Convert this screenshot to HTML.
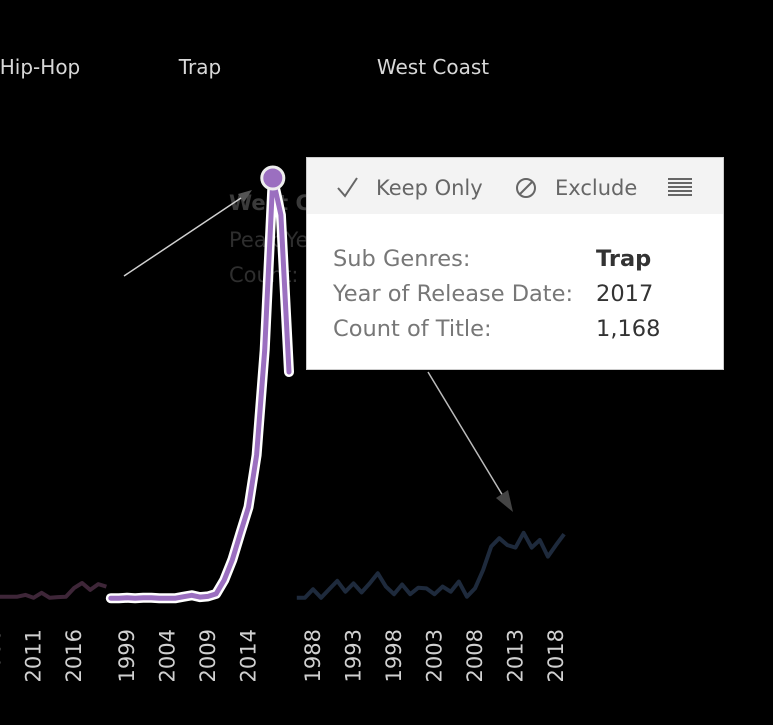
<!DOCTYPE html>
<html><head><meta charset="utf-8">
<style>
html,body{margin:0;padding:0;background:#000;}
body{width:773px;height:725px;overflow:hidden;position:relative;font-family:"DejaVu Sans","Liberation Sans",sans-serif;}
svg{position:absolute;left:0;top:0;font-family:"DejaVu Sans","Liberation Sans",sans-serif;}
</style></head>
<body>
<svg id="chart" width="773" height="725">
  <text x="40" y="74" fill="#d8d8d8" font-size="20" text-anchor="middle">Hip-Hop</text>
  <text x="200" y="74" fill="#d8d8d8" font-size="20" text-anchor="middle">Trap</text>
  <text x="433" y="74" fill="#d8d8d8" font-size="20" text-anchor="middle">West Coast</text>
  <g fill="#2e2e2e" font-size="21">
    <text x="229" y="210" font-weight="bold" fill="#3a3a3a">West C</text>
    <text x="229" y="247">Peak Ye</text>
    <text x="229" y="282">Count:</text>
  </g>
  <g id="plots"></g>
  <line x1="124" y1="276" x2="244" y2="196" stroke="#d0d0d0" stroke-width="1.5"/>
  <polygon points="252,190 238,194 244,202" fill="#555"/>
  <line x1="428" y1="372" x2="503" y2="496" stroke="#bbb" stroke-width="1.5"/>
  <polygon points="513,512 496,498 508,490" fill="#444"/>
  <g>
    <rect x="306.5" y="157.5" width="417" height="212" fill="#fff" stroke="#ccc"/>
    <rect x="307" y="158" width="416" height="56" fill="#f3f3f3"/>
    <g>
      <polyline points="338,188 345,196 357,178" fill="none" stroke="#666" stroke-width="2"/>
      <text x="376" y="195" fill="#666" font-size="21">Keep Only</text>
    </g>
    <g>
      <circle cx="526" cy="188" r="9" fill="none" stroke="#666" stroke-width="2"/>
      <line x1="520" y1="194" x2="532" y2="182" stroke="#666" stroke-width="2"/>
      <text x="555" y="195" fill="#666" font-size="21">Exclude</text>
    </g>
    <g fill="#666">
      <rect x="668" y="178" width="24" height="2"/><rect x="668" y="182" width="24" height="2"/>
      <rect x="668" y="186" width="24" height="2"/><rect x="668" y="190" width="24" height="2"/>
      <rect x="668" y="194" width="24" height="2"/>
    </g>
    <g font-size="22.5" fill="#777">
      <text x="333" y="266">Sub Genres:</text>
      <text x="333" y="301">Year of Release Date:</text>
      <text x="333" y="336">Count of Title:</text>
    </g>
    <g font-size="22.5" fill="#333">
      <text x="596" y="266" font-weight="bold">Trap</text>
      <text x="596" y="301">2017</text>
      <text x="596" y="336">1,168</text>
    </g>
  </g>
</svg>
<script>
const hipYears = [2006,2007,2008,2009,2010,2011,2012,2013,2014,2015,2016,2017,2018,2019,2020];
const hipCounts = [9,9,9,9,14,6,20,6,8,9,33,47,28,44,37];
const trapYears = [1997,1998,1999,2000,2001,2002,2003,2004,2005,2006,2007,2008,2009,2010,2011,2012,2013,2014,2015,2016,2017,2018,2019];
const trapCounts = [5,5,6,5,6,6,5,5,5,9,13,8,10,17,55,111,185,257,401,692,1168,1066,631];
const westYears = [1986,1987,1988,1989,1990,1991,1992,1993,1994,1995,1996,1997,1998,1999,2000,2001,2002,2003,2004,2005,2006,2007,2008,2009,2010,2011,2012,2013,2014,2015,2016,2017,2018,2019];
const westCounts = [6,6,30,6,30,53,23,46,21,46,74,37,16,43,16,34,32,16,37,23,51,9,32,83,148,171,152,145,186,145,166,120,152,182];
const hipTicks = [2006,2011,2016];
const trapTicks = [1999,2004,2009,2014];
const westTicks = [1988,1993,1998,2003,2008,2013,2018];

const NS='http://www.w3.org/2000/svg';
const plots=document.getElementById('plots');
const PX=8.1;
function yScale(v){return 600 - v*0.3613;}
function mk(tag,attrs){const e=document.createElementNS(NS,tag);for(const k in attrs)e.setAttribute(k,attrs[k]);return e;}
function xHip(y){return 74+(y-2016)*PX;}
function xTrap(y){return 127+(y-1999)*PX;}
function xWest(y){return 313+(y-1988)*PX;}
function pathD(years,counts,xf){return years.map((y,i)=>(i?'L':'M')+xf(y).toFixed(1)+','+yScale(counts[i]).toFixed(1)).join(' ');}
function ticks(list,xf,name){
  list.forEach(t=>{
    const x=xf(t)+7;
    const tx=mk('text',{x:x,y:629,fill:'#d0d0d0','font-size':'21','text-anchor':'end',transform:'rotate(-90 '+x+' 629)'});
    tx.textContent=t;
    
    
    plots.appendChild(tx);
  });
}
const hp=mk('path',{d:pathD(hipYears,hipCounts,xHip),fill:'none',stroke:'#3e2638','stroke-width':'4','stroke-linejoin':'round'});


plots.appendChild(hp);
ticks(hipTicks,xHip,'hip-hop');
const td=pathD(trapYears,trapCounts,xTrap);
const tOut=mk('path',{d:td,fill:'none',stroke:'#fff','stroke-width':'10','stroke-linejoin':'round','stroke-linecap':'round'});


plots.appendChild(tOut);
const tl=mk('path',{d:td,fill:'none',stroke:'#9b6fc0','stroke-width':'5','stroke-linejoin':'round','stroke-linecap':'round'});


plots.appendChild(tl);
let pi=trapCounts.indexOf(Math.max(...trapCounts));
const pt=mk('circle',{cx:xTrap(trapYears[pi]),cy:yScale(trapCounts[pi]),r:11,fill:'#9b6fc0',stroke:'#eee','stroke-width':'3'});


plots.appendChild(pt);
ticks(trapTicks,xTrap,'trap');
const wl=mk('path',{d:pathD(westYears,westCounts,xWest),fill:'none',stroke:'#1e2a3c','stroke-width':'4','stroke-linejoin':'round'});


plots.appendChild(wl);
ticks(westTicks,xWest,'west-coast');
</script>
</body></html>
